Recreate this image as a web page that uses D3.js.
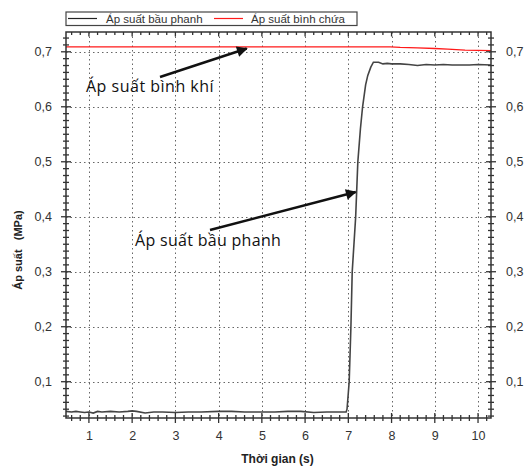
<!DOCTYPE html>
<html>
<head>
<meta charset="utf-8">
<script src="https://cdn.jsdelivr.net/npm/d3@7"></script>
<style>
  body { margin: 0; background: #fff; }
  svg { display: block; }
</style>
</head>
<body>
<div id="chart-container"></div>
<script>
// Áp suất bầu phanh (black)
const brakeTime = [0.47, 0.6, 0.7, 0.8, 0.9, 1.0, 1.1, 1.2, 1.3, 1.5, 1.7, 1.9, 2.0, 2.1, 2.3, 2.5, 2.7, 3.0, 3.3, 3.6, 4.0, 4.3, 4.6, 5.0, 5.3, 5.6, 5.9, 6.2, 6.5, 6.8, 6.95,
  6.97, 7.0, 7.02, 7.06, 7.09, 7.13, 7.17, 7.22, 7.28, 7.33, 7.4, 7.45, 7.52, 7.58, 7.7, 7.8, 7.9, 8.0, 8.2, 8.4, 8.6, 8.8, 9.0, 9.2, 9.4, 9.6, 9.8, 10.0, 10.3]
const brakeValue = [0.046, 0.045, 0.046, 0.045, 0.044, 0.045, 0.043, 0.046, 0.045, 0.046, 0.045, 0.046, 0.047, 0.046, 0.043, 0.045, 0.045, 0.044, 0.045, 0.045, 0.046, 0.046, 0.045, 0.045, 0.045, 0.046, 0.046, 0.044, 0.045, 0.045, 0.045,
  0.05, 0.08, 0.1, 0.2, 0.3, 0.35, 0.4, 0.5, 0.56, 0.6, 0.64, 0.657, 0.672, 0.681, 0.681, 0.678, 0.679, 0.678, 0.678, 0.677, 0.675, 0.677, 0.676, 0.677, 0.676, 0.676, 0.676, 0.677, 0.676]

// Áp suất bình chứa (red)
const tankTime = [0.47, 7.97, 8.2, 8.6, 9.0, 9.3, 9.7, 10.3]
const tankValue = [0.709, 0.709, 0.708, 0.707, 0.706, 0.705, 0.703, 0.702]

const seriesNames = ['Áp suất bầu phanh', 'Áp suất bình chứa']
const seriesColors = ['#444', '#ff1a1a']

const xTicks = [1, 2, 3, 4, 5, 6, 7, 8, 9, 10]
const yTicks = [0.1, 0.2, 0.3, 0.4, 0.5, 0.6, 0.7]

const xLabel = 'Thời gian (s)'
const yLabel = 'Áp suất   (MPa)'
const noteTank = 'Áp suất bình khí'
const noteBrake = 'Áp suất bầu phanh'

const width = 525
const height = 467
const plotLeft = 66
const plotRight = 491
const plotTop = 32
const plotBottom = 418

const svg = d3
  .select('#chart-container')
  .append('svg')
  .attr('width', width)
  .attr('height', height)

const x = d3.scaleLinear().domain([0.47, 10.3]).range([plotLeft, plotRight])
const y = d3.scaleLinear().domain([0.034, 0.736]).range([plotBottom, plotTop])

const loc = d3.formatLocale({ decimal: ',', thousands: '.', grouping: [3], currency: ['', ''] })
const fmt = loc.format('.1f')

const font = 'Liberation Sans, Arial, sans-serif'
const axisColor = '#333'

// dotted grid (snapped to whole pixels so the dots stay crisp)
svg
  .append('g')
  .selectAll('line')
  .data(xTicks)
  .join('line')
  .attr('x1', d => Math.round(x(d)) + 0.5)
  .attr('x2', d => Math.round(x(d)) + 0.5)
  .attr('y1', plotTop)
  .attr('y2', plotBottom)
  .attr('stroke', '#666')
  .attr('stroke-width', 1)
  .attr('stroke-dasharray', '1.5,3')

svg
  .append('g')
  .selectAll('line')
  .data(yTicks)
  .join('line')
  .attr('x1', plotLeft)
  .attr('x2', plotRight)
  .attr('y1', d => Math.round(y(d)) + 0.5)
  .attr('y2', d => Math.round(y(d)) + 0.5)
  .attr('stroke', '#666')
  .attr('stroke-width', 1)
  .attr('stroke-dasharray', '1.5,3')

// lines
const lineGen = d3
  .line()
  .x(d => x(d[0]))
  .y(d => y(d[1]))

svg
  .append('path')
  .attr('d', lineGen(tankTime.map((t, i) => [t, tankValue[i]])))
  .attr('fill', 'none')
  .attr('stroke', seriesColors[1])
  .attr('stroke-width', 1.3)

svg
  .append('path')
  .attr('d', lineGen(brakeTime.map((t, i) => [t, brakeValue[i]])))
  .attr('fill', 'none')
  .attr('stroke', seriesColors[0])
  .attr('stroke-width', 1.6)

// frame
svg
  .append('rect')
  .attr('x', plotLeft)
  .attr('y', plotTop)
  .attr('width', plotRight - plotLeft)
  .attr('height', plotBottom - plotTop)
  .attr('fill', 'none')
  .attr('stroke', axisColor)
  .attr('stroke-width', 1.5)

// tick marks
const xMinor = d3.range(0.6, 10.3, 0.2).filter(v => Math.abs(v - Math.round(v)) > 0.01)
const yMinor = d3.range(0.0375, 0.736, 0.0125).filter(v => Math.abs(v * 10 - Math.round(v * 10)) > 0.001)

const tickG = svg.append('g').attr('stroke', axisColor).attr('stroke-width', 1.3)

function hTicks(yPos, values, up, down) {
  tickG
    .append('g')
    .selectAll('line')
    .data(values)
    .join('line')
    .attr('x1', d => x(d))
    .attr('x2', d => x(d))
    .attr('y1', yPos - up)
    .attr('y2', yPos + down)
}
function vTicks(xPos, values, out, inn) {
  tickG
    .append('g')
    .selectAll('line')
    .data(values)
    .join('line')
    .attr('y1', d => y(d))
    .attr('y2', d => y(d))
    .attr('x1', xPos - out)
    .attr('x2', xPos + inn)
}
hTicks(plotBottom, xTicks, 5, 5)
hTicks(plotBottom, xMinor, 3, 3)
hTicks(plotTop, xTicks, 0, 4.5)
hTicks(plotTop, xMinor, 0, 3)
vTicks(plotLeft, yTicks, 5, 5)
vTicks(plotLeft, yMinor, 3, 3)
vTicks(plotRight, yTicks, 5, 5)
vTicks(plotRight, yMinor, 3, 3)

// tick labels via axes
const axisStyle = g => {
  g.select('.domain').remove()
  g.selectAll('text').attr('fill', '#333').attr('font-size', 12.5).attr('font-family', font)
}

svg
  .append('g')
  .attr('transform', `translate(0,${plotBottom})`)
  .call(d3.axisBottom(x).tickValues(xTicks).tickSize(0).tickPadding(13).tickFormat(d3.format('d')))
  .call(axisStyle)

svg
  .append('g')
  .attr('transform', `translate(${plotLeft},0)`)
  .call(d3.axisLeft(y).tickValues(yTicks).tickSize(0).tickPadding(14).tickFormat(fmt))
  .call(axisStyle)

svg
  .append('g')
  .attr('transform', `translate(${plotRight},0)`)
  .call(d3.axisRight(y).tickValues(yTicks).tickSize(0).tickPadding(15).tickFormat(fmt))
  .call(axisStyle)

// axis titles
svg
  .append('text')
  .attr('x', (plotLeft + plotRight) / 2 - 1)
  .attr('y', 463)
  .attr('text-anchor', 'middle')
  .attr('font-family', font)
  .attr('font-weight', 'bold')
  .attr('font-size', 12)
  .attr('fill', '#222')
  .text(xLabel)

svg
  .append('text')
  .attr('transform', `translate(22,250) rotate(-90)`)
  .attr('text-anchor', 'middle')
  .attr('font-family', font)
  .attr('font-weight', 'bold')
  .attr('font-size', 11)
  .attr('fill', '#222')
  .style('white-space', 'pre')
  .text(yLabel)

// legend
const legend = svg.append('g')
legend
  .append('rect')
  .attr('x', 66)
  .attr('y', 12)
  .attr('width', 291)
  .attr('height', 13.5)
  .attr('fill', '#fff')
  .attr('stroke', '#444')
  .attr('stroke-width', 1.2)

const legendItems = [
  { x1: 68, x2: 97, tx: 106 },
  { x1: 214, x2: 243, tx: 251 },
]
legendItems.forEach((it, i) => {
  legend
    .append('line')
    .attr('x1', it.x1)
    .attr('x2', it.x2)
    .attr('y1', 18.5)
    .attr('y2', 18.5)
    .attr('stroke', i === 0 ? '#222' : seriesColors[1])
    .attr('stroke-width', 1.2)
  legend
    .append('text')
    .attr('x', it.tx)
    .attr('y', 22.5)
    .attr('font-family', font)
    .attr('font-size', 11.5)
    .attr('fill', '#333')
    .text(seriesNames[i])
})

// annotations with arrows
svg
  .append('defs')
  .append('marker')
  .attr('id', 'arrow')
  .attr('viewBox', '0 0 10 10')
  .attr('refX', 9)
  .attr('refY', 5)
  .attr('markerWidth', 5)
  .attr('markerHeight', 4.5)
  .attr('orient', 'auto')
  .attr('markerUnits', 'strokeWidth')
  .append('path')
  .attr('d', 'M0,0L10,5L0,10z')
  .attr('fill', '#111')

const noteFont = 'Open Sans, Noto Sans, sans-serif'

svg
  .append('line')
  .attr('x1', 160)
  .attr('y1', 77)
  .attr('x2', x(4.65))
  .attr('y2', y(0.706))
  .attr('stroke', '#111')
  .attr('stroke-width', 2.4)
  .attr('marker-end', 'url(#arrow)')

svg
  .append('text')
  .attr('x', 86)
  .attr('y', 92)
  .attr('font-family', noteFont)
  .attr('font-size', 16)
  .attr('letter-spacing', 0.5)
  .attr('fill', '#111')
  .text(noteTank)

svg
  .append('line')
  .attr('x1', 210)
  .attr('y1', 230)
  .attr('x2', x(7.17))
  .attr('y2', y(0.445))
  .attr('stroke', '#111')
  .attr('stroke-width', 2.4)
  .attr('marker-end', 'url(#arrow)')

svg
  .append('text')
  .attr('x', 135)
  .attr('y', 246)
  .attr('font-family', noteFont)
  .attr('font-size', 16)
  .attr('letter-spacing', 0.3)
  .attr('fill', '#111')
  .text(noteBrake)
</script>
</body>
</html>
